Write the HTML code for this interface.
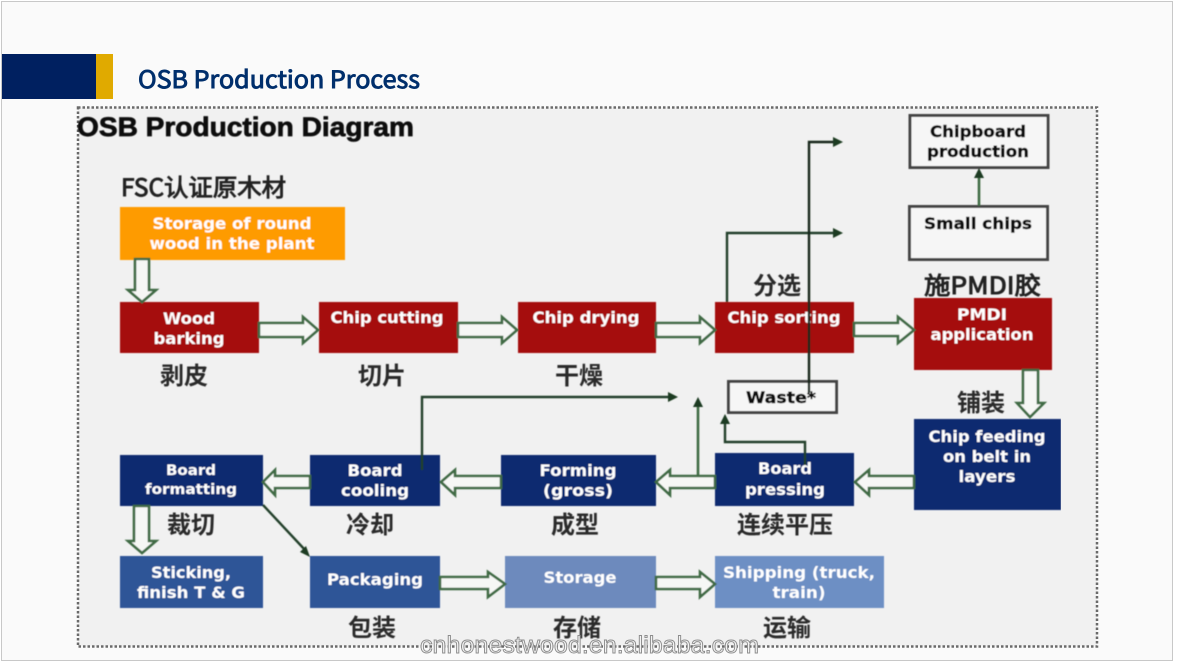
<!DOCTYPE html>
<html><head><meta charset="utf-8"><style>
html,body{margin:0;padding:0;width:1177px;height:662px;overflow:hidden;background:#fff}
svg{display:block}
.w{font:bold 16px "DejaVu Sans",sans-serif;fill:#fff;text-anchor:middle}
.k{font:bold 16px "DejaVu Sans",sans-serif;fill:#0a0a0a;stroke:#0a0a0a;stroke-width:.4;text-anchor:middle}
.c{font:700 24px "Noto Sans CJK SC",sans-serif;fill:#2a2a2a;text-anchor:middle}
.cl{font:400 24px "Noto Sans CJK SC",sans-serif;fill:#222;stroke:#222;stroke-width:.9}
.ar{fill:#f6f7f5;stroke:#3f6a45;stroke-width:2.6}
.ln{fill:none;stroke:#24402b;stroke-width:2.4}
.gl{fill:none;stroke:#3f6a45;stroke-width:2.6}
.hd{fill:#1c3a22}
</style></head><body>
<svg width="1177" height="662" viewBox="0 0 1177 662" xmlns="http://www.w3.org/2000/svg">
<defs><filter id="b" x="0" y="0" width="100%" height="100%"><feGaussianBlur stdDeviation="0.5"/></filter></defs>
<rect x="0" y="0" width="1177" height="662" fill="#fff"/>
<rect x="1.5" y="1.5" width="1171" height="659" fill="#fafafa" stroke="#c8c8c8"/>
<rect x="2" y="54" width="94" height="45" fill="#002060"/>
<rect x="96" y="54" width="17" height="45" fill="#e0aa00"/>
<text x="138" y="88" textLength="282" lengthAdjust="spacingAndGlyphs" style="font:400 24px 'Noto Sans CJK SC',sans-serif;fill:#002f6c;stroke:#002f6c;stroke-width:.9">OSB Production Process</text>

<rect x="78" y="107.5" width="1019" height="539" fill="#f1f1f1" stroke="#6a6a6a" stroke-width="2.5" stroke-dasharray="2.5 2"/>
<g filter="url(#b)">
<text x="77" y="136" textLength="337" lengthAdjust="spacingAndGlyphs" style="font:bold 27px 'Liberation Sans',sans-serif;fill:#0d0d0d;stroke:#0d0d0d;stroke-width:.7">OSB Production Diagram</text>
<text x="121" y="196" textLength="165" lengthAdjust="spacingAndGlyphs" class="cl">FSC认证原木材</text>

<!-- boxes -->
<rect x="120" y="207" width="225" height="53" fill="#fe9b05"/>
<rect x="120" y="302" width="139" height="51" fill="#a50b0b"/>
<rect x="319" y="302" width="139" height="51" fill="#a50b0b"/>
<rect x="518" y="302" width="138" height="51" fill="#a50b0b"/>
<rect x="715" y="302" width="139" height="51" fill="#a50b0b"/>
<rect x="914" y="298" width="138" height="72" fill="#a50b0b"/>
<rect x="914" y="419" width="147" height="91" fill="#0c2a70"/>
<rect x="715" y="453" width="139" height="53" fill="#0c2a70"/>
<rect x="501" y="455" width="155" height="51" fill="#0c2a70"/>
<rect x="310" y="455" width="130" height="51" fill="#0c2a70"/>
<rect x="120" y="455" width="143" height="51" fill="#0c2a70"/>
<rect x="120" y="556" width="143" height="52" fill="#2f5597"/>
<rect x="310" y="556" width="130" height="52" fill="#2f5597"/>
<rect x="505" y="556" width="151" height="52" fill="#6d8abd"/>
<rect x="715" y="556" width="169" height="52" fill="#6d8fc4"/>
<rect x="910" y="115.5" width="138" height="52" fill="#f6f6f6" stroke="#444" stroke-width="3"/>
<rect x="909.5" y="206.5" width="138" height="53" fill="#f6f6f6" stroke="#444" stroke-width="3"/>
<rect x="728.5" y="381.5" width="108" height="31" fill="#f6f6f6" stroke="#444" stroke-width="3"/>

<!-- block arrows -->
<path class="ar" d="M135 259V290H128L142 302L156 290H149V259Z"/>
<path class="ar" d="M259 323H303V317L318 330L303 343V337H259Z"/>
<path class="ar" d="M458 323H502V317L517 330L502 343V337H458Z"/>
<path class="ar" d="M656 323H700V317L715 330L700 343V337H656Z"/>
<path class="ar" d="M854 323H898V317L914 330L898 343V336H854Z"/>
<path class="ar" d="M1023 370V403H1017L1030 417L1044 403H1038V370Z"/>
<path class="ar" d="M914 476H869V470L855 482L869 495V488H914Z"/>
<path class="ar" d="M715 476H670V470L656 482L670 495V488H715Z"/>
<path class="ar" d="M501 476H455V470L441 482L455 495V488H501Z"/>
<path class="ar" d="M310 476H275V470L263 482L275 495V488H310Z"/>
<path class="ar" d="M134 506V541H128L142 553L156 541H149V506Z"/>
<path class="ar" d="M440 577H488V572L505 584L488 597V589H440Z"/>
<path class="ar" d="M656 577H700V572L715 584L700 597V589H656Z"/>

<!-- thin connectors -->
<path class="ln" d="M727 302V233H835"/>
<polygon class="hd" points="843,233 833,228 833,238"/>
<path class="gl" d="M979 206V176"/>
<polygon class="hd" points="979,168 974,178 984,178"/>
<path class="ln" d="M422 470V397H670"/>
<polygon class="hd" points="678,397 668,392 668,402"/>
<path class="gl" d="M698 476V405"/>
<polygon class="hd" points="698,397 693,407 703,407"/>
<path class="ln" d="M805 467V442H725V420"/>
<polygon class="hd" points="725,414 720,424 730,424"/>
<path class="ln" d="M263 505L306 551"/>
<polygon class="hd" points="310,557 300,552 306,546"/>

<!-- white labels -->
<text class="w" x="232" y="229" textLength="159" lengthAdjust="spacingAndGlyphs">Storage of round</text>
<text class="w" x="232" y="249" textLength="165" lengthAdjust="spacingAndGlyphs">wood in the plant</text>
<text class="w" x="189" y="324" textLength="52" lengthAdjust="spacingAndGlyphs">Wood</text>
<text class="w" x="189" y="344" textLength="71" lengthAdjust="spacingAndGlyphs">barking</text>
<text class="w" x="387" y="323" textLength="113" lengthAdjust="spacingAndGlyphs">Chip cutting</text>
<text class="w" x="586" y="323" textLength="107" lengthAdjust="spacingAndGlyphs">Chip drying</text>
<text class="w" x="784" y="323" textLength="113" lengthAdjust="spacingAndGlyphs">Chip sorting</text>
<text class="w" x="982" y="320" textLength="50" lengthAdjust="spacingAndGlyphs">PMDI</text>
<text class="w" x="982" y="340" textLength="103" lengthAdjust="spacingAndGlyphs">application</text>
<text class="w" x="987" y="442" textLength="117" lengthAdjust="spacingAndGlyphs">Chip feeding</text>
<text class="w" x="987" y="462" textLength="88" lengthAdjust="spacingAndGlyphs">on belt in</text>
<text class="w" x="987" y="482" textLength="57" lengthAdjust="spacingAndGlyphs">layers</text>
<text class="w" x="785" y="474" textLength="54" lengthAdjust="spacingAndGlyphs">Board</text>
<text class="w" x="785" y="495" textLength="80" lengthAdjust="spacingAndGlyphs">pressing</text>
<text class="w" x="578" y="476" textLength="77" lengthAdjust="spacingAndGlyphs">Forming</text>
<text class="w" x="578" y="496" textLength="70" lengthAdjust="spacingAndGlyphs">(gross)</text>
<text class="w" x="375" y="476" textLength="55" lengthAdjust="spacingAndGlyphs">Board</text>
<text class="w" x="375" y="496" textLength="68" lengthAdjust="spacingAndGlyphs">cooling</text>
<text class="w" x="191" y="475" style="font-size:14px" textLength="50" lengthAdjust="spacingAndGlyphs">Board</text>
<text class="w" x="191" y="494" style="font-size:14px" textLength="92" lengthAdjust="spacingAndGlyphs">formatting</text>
<text class="w" x="191" y="578" textLength="80" lengthAdjust="spacingAndGlyphs">Sticking,</text>
<text class="w" x="191" y="598" textLength="108" lengthAdjust="spacingAndGlyphs">finish T &amp; G</text>
<text class="w" x="375" y="585" textLength="96" lengthAdjust="spacingAndGlyphs">Packaging</text>
<text class="w" x="580" y="583" textLength="73" lengthAdjust="spacingAndGlyphs">Storage</text>
<text class="w" x="799" y="578" textLength="152" lengthAdjust="spacingAndGlyphs">Shipping (truck,</text>
<text class="w" x="799" y="598" textLength="53" lengthAdjust="spacingAndGlyphs">train)</text>

<!-- black labels -->
<text class="k" x="978" y="137" textLength="96" lengthAdjust="spacingAndGlyphs">Chipboard</text>
<text class="k" x="978" y="157" textLength="102" lengthAdjust="spacingAndGlyphs">production</text>
<text class="k" x="978" y="229" textLength="108" lengthAdjust="spacingAndGlyphs">Small chips</text>
<text class="k" x="781" y="403" textLength="70" lengthAdjust="spacingAndGlyphs">Waste*</text>

<!-- Chinese labels -->
<text class="c" x="184" y="384">剥皮</text>
<text class="c" x="382" y="384">切片</text>
<text class="c" x="579" y="384">干燥</text>
<text class="c" x="777" y="294">分选</text>
<text x="924" y="294" textLength="117" lengthAdjust="spacingAndGlyphs" class="cl">施PMDI胶</text>
<text class="c" x="981" y="411">铺装</text>
<text class="c" x="191" y="533">裁切</text>
<text class="c" x="370" y="533">冷却</text>
<text class="c" x="575" y="533">成型</text>
<text class="c" x="785" y="533">连续平压</text>
<text class="c" x="372" y="636">包装</text>
<text class="c" x="577" y="636">存储</text>
<text class="c" x="787" y="636">运输</text>

<!-- long connector drawn over the labels and boxes -->
<path d="M809 393V142H835" fill="none" stroke="#18281c" stroke-width="2.4"/>
<polygon class="hd" points="843,142 833,137 833,147"/>
</g>

<text x="420" y="653" textLength="339" lengthAdjust="spacingAndGlyphs" style="font:24px 'Liberation Sans',sans-serif;fill:#f4f4f4;stroke:#8c8c8c;stroke-width:.9">cnhonestwood.en.alibaba.com</text>
</svg>
</body></html>
